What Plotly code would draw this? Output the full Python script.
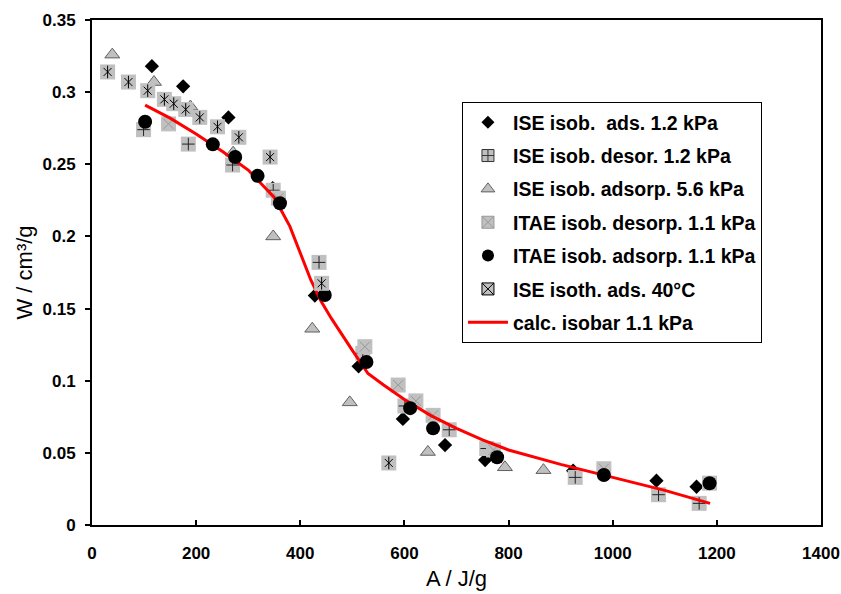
import plotly.graph_objects as go

# ISE isob. ads. 1.2 kPa (black diamonds)
ise_ads_A = [115, 175, 262, 347, 428, 512, 597, 678, 755, 924, 1084, 1161]
ise_ads_W = [0.318, 0.304, 0.2825, 0.2335, 0.159, 0.110, 0.0735, 0.0554, 0.045, 0.0376, 0.0307, 0.0265]

# ISE isob. desor. 1.2 kPa (grey box with plus)
ise_des_A = [99, 185, 270, 348, 436, 520, 601, 686, 758, 928, 1088, 1166]
ise_des_W = [0.274, 0.264, 0.2495, 0.232, 0.182, 0.119, 0.0825, 0.066, 0.053, 0.033, 0.021, 0.015]

# ISE isob. adsorp. 5.6 kPa (grey triangles)
ise_ads56_A = [39, 119, 189, 271, 348, 423, 495, 645, 793, 867]
ise_ads56_W = [0.326, 0.307, 0.290, 0.258, 0.200, 0.136, 0.085, 0.0506, 0.040, 0.038]

# ITAE isob. desorp. 1.1 kPa (grey box with x)
itae_des_A = [147, 358, 524, 588, 622, 655, 771, 983, 1186]
itae_des_W = [0.278, 0.2265, 0.1236, 0.097, 0.086, 0.076, 0.052, 0.039, 0.029]

# ITAE isob. adsorp. 1.1 kPa (black circles)
itae_ads_A = [102, 232, 275, 318, 361, 447, 527, 611, 655, 778, 983, 1186]
itae_ads_W = [0.2795, 0.2638, 0.255, 0.242, 0.223, 0.1594, 0.113, 0.081, 0.067, 0.047, 0.0347, 0.0289]

# ISE isoth. ads. 40°C (grey box with asterisk)
ise_iso_A = [30, 70, 107, 139, 157, 180, 207, 241, 282, 342, 441, 570]
ise_iso_W = [0.314, 0.307, 0.301, 0.295, 0.292, 0.288, 0.2825, 0.276, 0.2687, 0.255, 0.1675, 0.043]

# calc. isobar 1.1 kPa (red line)
calc_A = [102, 150, 200, 250, 300, 350, 380, 400, 420, 440, 460, 500, 530, 560, 600, 650, 700, 750, 800, 900, 1000, 1100, 1187]
calc_W = [0.291, 0.282, 0.271, 0.259, 0.246, 0.227, 0.207, 0.188, 0.170, 0.155, 0.143, 0.121, 0.105, 0.097,
          0.087, 0.076, 0.067, 0.059, 0.052, 0.042, 0.033, 0.024, 0.015]

BOX = "#c0c0c0"
FONT = "Liberation Sans"

fig = go.Figure()


def pts(x, y, **marker):
    fig.add_trace(go.Scatter(x=x, y=y, mode="markers", marker=marker,
                             showlegend=False, hoverinfo="x+y"))


def legend_entry(name, rank, **kw):
    # legend-only trace: carries the symbol, draws nothing
    fig.add_trace(go.Scatter(x=[None], y=[None], name=name, legendgroup=name,
                             legendrank=rank, **kw))


# markers, in the original series order
pts(ise_ads_A, ise_ads_W, symbol="diamond", size=11, color="black")

pts(ise_des_A, ise_des_W, symbol="square", size=15, color=BOX)
pts(ise_des_A, ise_des_W, symbol="cross-thin", size=9, line=dict(color="#222222", width=1))

pts(ise_ads56_A, ise_ads56_W, symbol="triangle-up", size=13, color=BOX,
    line=dict(color="#606060", width=1))

pts(itae_des_A, itae_des_W, symbol="square", size=15, color=BOX)
pts(itae_des_A, itae_des_W, symbol="x-thin", size=10, line=dict(color="#999999", width=1))

fig.add_trace(go.Scatter(x=calc_A, y=calc_W, mode="lines", line=dict(color="red", width=3),
                         showlegend=False, hoverinfo="x+y"))

pts(itae_ads_A, itae_ads_W, symbol="circle", size=14, color="black")

pts(ise_iso_A, ise_iso_W, symbol="square", size=15, color=BOX)
pts(ise_iso_A, ise_iso_W, symbol="x-thin", size=8, line=dict(color="black", width=1))
pts(ise_iso_A, ise_iso_W, symbol="line-ns", size=9, line=dict(color="black", width=1))

# legend
legend_entry("ISE isob.  ads. 1.2 kPa", 1, mode="markers",
             marker=dict(symbol="diamond", size=10, color="black"))
legend_entry("ISE isob. desor. 1.2 kPa", 2, mode="markers",
             marker=dict(symbol="square-cross", size=12, color=BOX, line=dict(color="#333333", width=1)))
legend_entry("ISE isob. adsorp. 5.6 kPa", 3, mode="markers",
             marker=dict(symbol="triangle-up", size=12, color=BOX, line=dict(color="#606060", width=1)))
legend_entry("ITAE isob. desorp. 1.1 kPa", 4, mode="markers",
             marker=dict(symbol="square-x", size=12, color=BOX, line=dict(color="#999999", width=1)))
legend_entry("ITAE isob. adsorp. 1.1 kPa", 5, mode="markers",
             marker=dict(symbol="circle", size=12, color="black"))
legend_entry("ISE isoth. ads. 40°C", 6, mode="markers",
             marker=dict(symbol="square-x", size=12, color=BOX, line=dict(color="black", width=1)))
legend_entry("calc. isobar 1.1 kPa", 7, mode="lines", line=dict(color="red", width=3))

fig.update_layout(
    width=841, height=594,
    margin=dict(l=92, r=20, t=20, b=69),
    paper_bgcolor="white", plot_bgcolor="white",
    font=dict(family=FONT, color="black"),
    legend=dict(
        x=0.5075, y=0.8376, xanchor="left", yanchor="top",
        bordercolor="black", borderwidth=1, bgcolor="white",
        font=dict(family=FONT, size=19.5, weight="bold"),
        tracegroupgap=5, itemsizing="trace", itemwidth=40,
    ),
    xaxis=dict(
        range=[0, 1400], tick0=0, dtick=200, automargin=False,
        ticks="inside", ticklen=5, tickwidth=2, tickcolor="black",
        showline=True, linewidth=2, linecolor="black", mirror=True,
        showgrid=False, zeroline=False, ticklabeloverflow="allow",
        tickfont=dict(family=FONT, size=17, weight="bold"),
        ticklabelstandoff=12,
        title=dict(text="A / J/g", font=dict(family=FONT, size=22), standoff=8),
    ),
    yaxis=dict(
        range=[0, 0.35], tick0=0, dtick=0.05, automargin=False,
        ticks="outside", ticklen=5, tickwidth=2, tickcolor="black",
        showline=True, linewidth=2, linecolor="black", mirror=True,
        showgrid=False, zeroline=False, ticklabeloverflow="allow",
        tickfont=dict(family=FONT, size=17, weight="bold"),
        ticklabelstandoff=6,
        title=dict(text="W / cm³/g", font=dict(family=FONT, size=22), standoff=4),
    ),
)

# drop the default 8px body margin so the 841x594 figure fills the window exactly
fig.write_html("out.html", config={"displayModeBar": False},
               post_script="document.body.style.margin='0';document.body.style.overflow='hidden';")
